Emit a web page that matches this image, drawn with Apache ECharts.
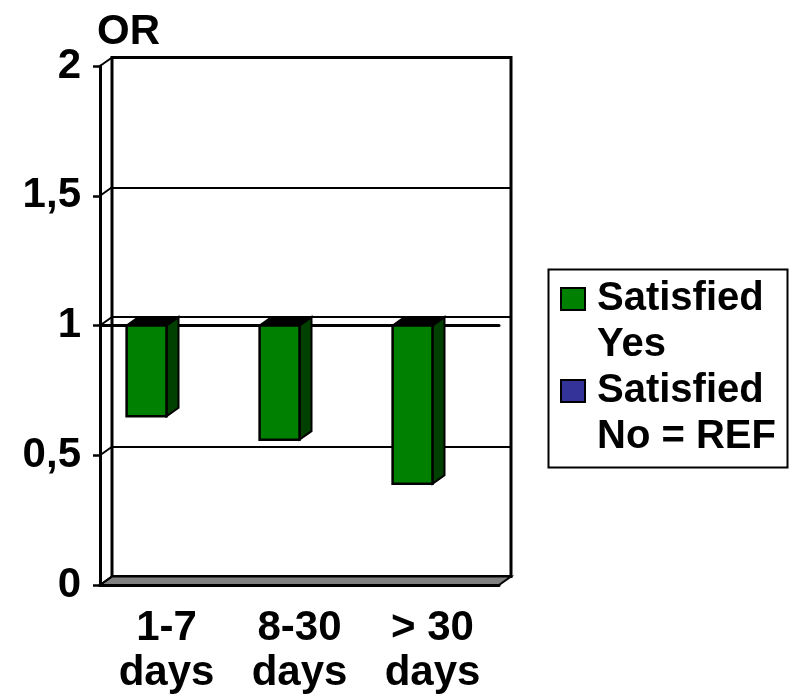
<!DOCTYPE html>
<html>
<head>
<meta charset="utf-8">
<script src="https://cdn.jsdelivr.net/npm/echarts@6/dist/echarts.min.js"></script>
<style>
  html, body { margin: 0; padding: 0; background: #fff; }
  #chart { width: 796px; height: 694px; }
</style>
</head>
<body>
<div id="chart"></div>
<script>
// Odds ratios by duration, with "Satisfied No" as the reference (OR = 1)
const categories = ['1-7\ndays', '8-30\ndays', '> 30\ndays'];
const satisfiedYes = [0.65, 0.56, 0.39];
const satisfiedNoRef = [1, 1, 1];
const yTicks = [0, 0.5, 1, 1.5, 2];
const seriesNames = ['Satisfied\nYes', 'Satisfied\nNo = REF'];

const FONT = '"Liberation Sans", Arial, sans-serif';
const GREEN = '#008000';
const GREEN_SIDE = '#004000';
const BLUE = '#333399';
const FLOOR = '#808080';
// oblique offset from the front plane to the back wall
const DEPTH = [12, -8.5];

const chart = echarts.init(document.getElementById('chart'), null, { renderer: 'canvas' });

const axisFont = { fontFamily: FONT, fontSize: 42, fontWeight: 'bold', color: '#000' };
const legendFont = { fontFamily: FONT, fontSize: 40, fontWeight: 'bold', color: '#000' };

function bandWidth(api) { return api.size([1, 0])[0]; }

// 3D-looking column hanging from the reference level down to the odds ratio
function renderBar(params, api) {
  const i = api.value(0);
  const v = api.value(1);
  const ref = satisfiedNoRef[i];
  const band = bandWidth(api);
  const pBase = api.coord([i, ref]);
  const pEnd = api.coord([i, v]);
  const right = pBase[0];
  const left = right - band * 0.3;
  const yTop = Math.min(pBase[1], pEnd[1]);
  const yBot = Math.max(pBase[1], pEnd[1]);
  const [dx, dy] = DEPTH;
  return {
    type: 'group',
    children: [
      {
        type: 'polygon',
        shape: { points: [[right, yTop], [right + dx, yTop + dy], [right + dx, yBot + dy], [right, yBot]] },
        style: { fill: GREEN_SIDE, stroke: '#000', lineWidth: 2 }
      },
      {
        type: 'polygon',
        shape: { points: [[left, yTop], [left + dx, yTop + dy], [right + dx, yTop + dy], [right, yTop]] },
        style: { fill: '#000', stroke: '#000', lineWidth: 2 }
      },
      {
        type: 'rect',
        shape: { x: left, y: yTop, width: right - left, height: yBot - yTop },
        style: { fill: GREEN, stroke: '#000', lineWidth: 2.5 }
      }
    ]
  };
}

// reference series sits exactly at OR = 1: zero-height columns
function renderRef() { return null; }

// grey floor of the plot box
function renderFloor(params, api) {
  const band = bandWidth(api);
  const a = api.coord([0, yTicks[0]]);
  const b = api.coord([categories.length - 1, yTicks[0]]);
  const x0 = a[0] - band / 2, x1 = b[0] + band / 2, y = a[1];
  const [dx, dy] = DEPTH;
  return {
    type: 'polygon',
    shape: { points: [[x0, y], [x1, y], [x1 + dx, y + dy], [x0 + dx, y + dy]] },
    style: { fill: FLOOR, stroke: '#000', lineWidth: 2 }
  };
}

// side-wall gridlines joining each front tick to the back wall
function renderSideLine(params, api) {
  const band = bandWidth(api);
  const p = api.coord([0, api.value(1)]);
  const x = p[0] - band / 2;
  const [dx, dy] = DEPTH;
  return {
    type: 'line',
    shape: { x1: x, y1: p[1], x2: x + dx, y2: p[1] + dy },
    style: { stroke: '#000', lineWidth: 2 }
  };
}

const FRONT = { left: 100, top: 66, width: 399, height: 519 };

chart.setOption({
  backgroundColor: '#fff',
  animation: false,
  title: {
    text: 'OR',
    left: 97,
    top: 11,
    padding: 0,
    textStyle: axisFont
  },
  legend: {
    orient: 'vertical',
    left: 560,
    top: 230,
    padding: 0,
    itemGap: -46,
    itemWidth: 24,
    itemHeight: 22,
    icon: 'rect',
    selectedMode: false,
    itemStyle: { borderColor: '#000', borderWidth: 2 },
    // a blank first line puts the swatch level with the first line of each name
    formatter: name => ' \n' + name.split('\n').map(s => '{t|' + s + '}').join('\n'),
    textStyle: Object.assign({}, legendFont, {
      lineHeight: 46,
      rich: { t: Object.assign({}, legendFont, { lineHeight: 46, padding: [0, 0, 0, 7] }) }
    }),
    data: seriesNames
  },
  graphic: [{
    type: 'rect',
    left: 546,
    top: 267,
    shape: { width: 239, height: 198 },
    style: { fill: 'none', stroke: '#000', lineWidth: 2 },
    z: 10
  }],
  grid: [
    Object.assign({ containLabel: false, outerBoundsMode: 'none' }, FRONT),
    {
      left: FRONT.left + DEPTH[0], top: FRONT.top + DEPTH[1],
      width: FRONT.width, height: FRONT.height, outerBoundsMode: 'none',
      show: true, borderColor: '#000', borderWidth: 3, backgroundColor: 'transparent'
    }
  ],
  xAxis: [
    {
      gridIndex: 0, type: 'category', data: categories, position: 'bottom', z: 5,
      axisLine: { lineStyle: { color: '#000', width: 3 } },
      axisTick: { length: 7, lineStyle: { color: '#000', width: 2.5 } },
      axisLabel: Object.assign({}, axisFont, { margin: 21, lineHeight: 45, interval: 0 }),
      splitLine: { show: false }
    },
    {
      // horizontal axis crossing at OR = 1
      gridIndex: 0, type: 'category', data: categories, position: 'bottom',
      offset: -FRONT.height / 2, z: 1,
      axisLine: { lineStyle: { color: '#000', width: 3 } },
      axisTick: { length: 6, lineStyle: { color: '#000', width: 2.5 } },
      axisLabel: { show: false },
      splitLine: { show: false }
    },
    {
      gridIndex: 1, type: 'category', data: categories, show: false
    }
  ],
  yAxis: [
    {
      gridIndex: 0, type: 'value', min: yTicks[0], max: yTicks[yTicks.length - 1], interval: 0.5, z: 5,
      axisLine: { show: true, lineStyle: { color: '#000', width: 3 } },
      axisTick: { show: true, length: 7, lineStyle: { color: '#000', width: 2.5 } },
      axisLabel: Object.assign({}, axisFont, {
        margin: 19,
        formatter: v => String(v).replace('.', ',')
      }),
      splitLine: { show: false }
    },
    {
      gridIndex: 1, type: 'value', min: yTicks[0], max: yTicks[yTicks.length - 1], interval: 0.5,
      axisLine: { show: false }, axisTick: { show: false }, axisLabel: { show: false },
      splitLine: { show: true, lineStyle: { color: '#000', width: 2 } }
    }
  ],
  series: [
    {
      name: 'floor', type: 'custom', xAxisIndex: 0, yAxisIndex: 0, z: 1, silent: true,
      renderItem: renderFloor, data: [[0, yTicks[0]]]
    },
    {
      name: 'side wall', type: 'custom', xAxisIndex: 0, yAxisIndex: 0, z: 1, silent: true,
      renderItem: renderSideLine, data: yTicks.map(v => [0, v])
    },
    {
      name: seriesNames[0], type: 'custom', xAxisIndex: 0, yAxisIndex: 0, z: 3,
      itemStyle: { color: GREEN },
      renderItem: renderBar,
      data: satisfiedYes.map((v, i) => [i, v])
    },
    {
      name: seriesNames[1], type: 'custom', xAxisIndex: 0, yAxisIndex: 0, z: 3,
      itemStyle: { color: BLUE },
      renderItem: renderRef,
      data: satisfiedNoRef.map((v, i) => [i, v])
    }
  ]
});
</script>
</body>
</html>
